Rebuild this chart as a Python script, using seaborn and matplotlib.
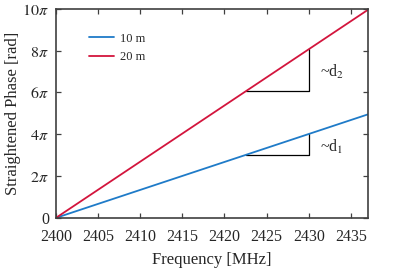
import numpy as np
import pandas as pd
import matplotlib
matplotlib.use("Agg")
import matplotlib.pyplot as plt
import seaborn as sns

# data (phase in units of pi)
freq = [2400, 2437]
phase_10m = [0.0, 4.95]
phase_20m = [0.0, 9.95]
labels = ["10 m", "20 m"]
colors = ["#1f7bc8", "#d3153d"]
tri_x = [2422.5, 2430]
tri_labels = [r"~d$_1$", r"~d$_2$"]
xticks = [2400, 2405, 2410, 2415, 2420, 2425, 2430, 2435]
yticks = [0, 2, 4, 6, 8, 10]
ytick_labels = ["0", r"$2\pi$", r"$4\pi$", r"$6\pi$", r"$8\pi$", r"$10\pi$"]

sns.set_style("ticks")
plt.rcParams["font.family"] = ["Liberation Serif", "DejaVu Serif"]
plt.rcParams["mathtext.fontset"] = "stix"

df = pd.DataFrame({
    "Frequency": freq * 2,
    "Phase": phase_10m + phase_20m,
    "Length": [labels[0]] * 2 + [labels[1]] * 2,
})

fig = plt.figure(figsize=(4.05, 2.69), dpi=100)
ax = fig.add_axes([0.138, 0.19, 0.77, 0.777])

sns.lineplot(data=df, x="Frequency", y="Phase", hue="Length",
             palette=colors, linewidth=1.3, ax=ax)

# slope triangles
for ph, lab in zip([phase_10m, phase_20m], tri_labels):
    y0 = np.interp(tri_x[0], freq, ph)
    y1 = np.interp(tri_x[1], freq, ph)
    ax.plot([tri_x[0], tri_x[1], tri_x[1]], [y0, y0, y1], color="black", linewidth=0.9, zorder=1)
    ax.text(tri_x[1] + 1.3, (y0 + y1) / 2 - 0.1, lab, fontsize=11.5, va="center", ha="left")

ax.set_xlim(2400, 2437)
ax.set_ylim(0, 10)
ax.set_xticks(xticks)
ax.set_yticks(yticks)
ax.set_yticklabels(ytick_labels)
ax.set_xlabel("Frequency [MHz]", fontsize=12, labelpad=5)
ax.set_ylabel("Straightened Phase [rad]", fontsize=12, labelpad=1)
ax.tick_params(direction="in", top=True, right=True, length=3.5, width=0.9,
               labelsize=11.5, color="#404040")
ax.tick_params(axis="x", pad=8)
ax.tick_params(axis="y", pad=5)
for s in ax.spines.values():
    s.set_color("#404040")
    s.set_linewidth(1.2)
    s.set_visible(True)

leg = ax.legend(loc="upper left", bbox_to_anchor=(0.07, 0.94), frameon=False,
                fontsize=9, handlelength=2.0, handletextpad=0.5, labelspacing=0.5)
leg.set_title(None)

fig.savefig("out.png", dpi=100)
